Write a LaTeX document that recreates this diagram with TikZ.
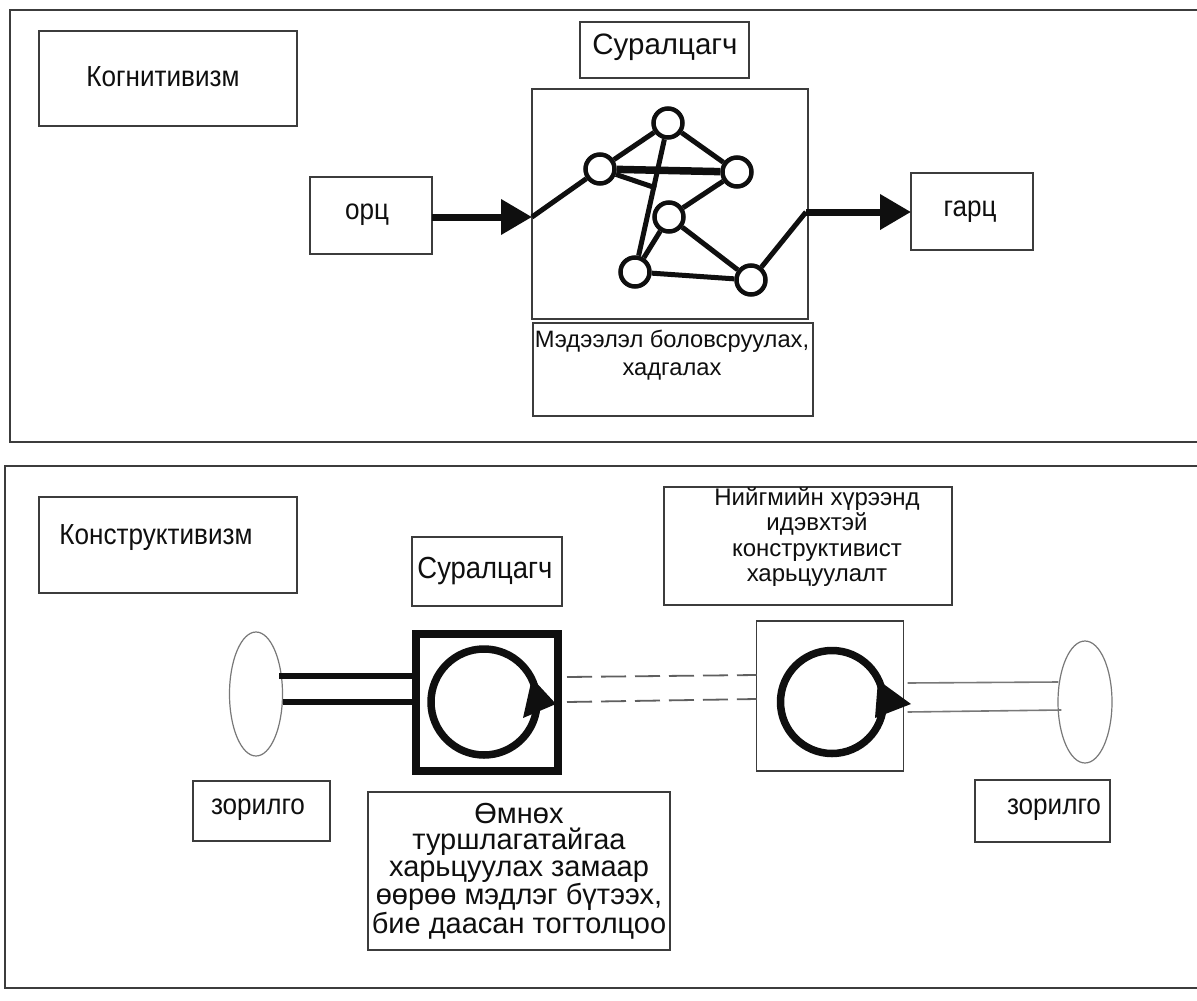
\documentclass[tikz,border=0pt]{standalone}
\usepackage{fontspec}
\setmainfont{Liberation Sans}
\newfontfamily\condf{Liberation Sans}[FakeStretch=0.9]
\usetikzlibrary{arrows.meta,shapes.geometric}
\definecolor{frame}{RGB}{60,60,60}
\definecolor{ink}{RGB}{15,15,15}
\definecolor{dashgray}{RGB}{95,95,95}
\definecolor{thingray}{RGB}{120,120,120}
\begin{document}
\begin{tikzpicture}[x=1pt,y=-1pt,
  panel/.style={draw=frame,line width=2pt},
  box/.style={draw=frame,line width=1.8pt,inner sep=0pt,outer sep=0pt},
  big/.style={font=\condf\fontsize{29}{29}\selectfont,align=center,text=ink,inner sep=0pt},
  small/.style={font=\fontsize{24}{25.5}\selectfont,align=center,text=ink,inner sep=0pt},
  gnode/.style={circle,draw=ink,line width=4.5pt,fill=white,minimum size=29pt,inner sep=0pt},
  gedge/.style={draw=ink,line width=5pt},
  fatarrow/.style={draw=ink,line width=7pt,-{Triangle[length=31pt,width=34pt]}},
  loopc/.style={circle,draw=ink,line width=7.5pt,inner sep=0pt},
  goal/.style={ellipse,draw=thingray,line width=1.2pt,inner sep=0pt}]
\useasboundingbox (0,0) rectangle (1197,1001);
\fill[white] (0,0) rectangle (1197,1001);

% ---------------- top panel ----------------
\draw[panel] (9.5,10) rectangle (1215,441.5);
\node[box,minimum width=258pt,minimum height=95pt] (kog) at (168,78.5) {};
\node[big] (kogt) at (163,77) {Когнитивизм};

\node[box,minimum width=169pt,minimum height=56pt] (sur1) at (664.5,50) {};
\node[big,font=\fontsize{29.5}{30}\selectfont] (sur1t) at (665,47) {Суралцагч};

\node[box,minimum width=276pt,minimum height=230pt] (gbox) at (670,204) {};
\node[box,minimum width=280pt,minimum height=93pt] (mbox) at (673,369.5) {};
\node[small,font=\fontsize{23.7}{28}\selectfont,anchor=north] (mboxt) at (672,330) {Мэдээлэл боловсруулах,\\хадгалах};

\node[box,minimum width=122pt,minimum height=77pt] (orc) at (371,215.5) {};
\node[big] (orct) at (367,215) {орц};
\node[box,minimum width=122pt,minimum height=77pt] (garc) at (972,211.5) {};
\node[big] (garct) at (970,212) {гарц};

\node[gnode] (n1) at (668,123) {};
\node[gnode] (n2) at (600,169) {};
\node[gnode] (n3) at (737,172) {};
\node[gnode] (n4) at (669,217) {};
\node[gnode] (n5) at (635,272) {};
\node[gnode] (n6) at (751,280) {};
\coordinate (in) at (532,217);
\coordinate (out) at (806,212);
\coordinate (stub) at (656,188);

\draw[gedge] (in) -- (n2);
\draw[gedge] (n2) -- (n1);
\draw[gedge] (n1) -- (n3);
\draw[gedge,line width=7.5pt] (n2) -- (n3);
\draw[gedge] (n2) -- (stub);
\draw[gedge] (n1) -- (n5);
\draw[gedge] (n3) -- (n4);
\draw[gedge] (n4) -- (n5);
\draw[gedge] (n4) -- (n6);
\draw[gedge] (n5) -- (n6);
\draw[gedge] (n6) -- (out);
\draw[fatarrow] (orc.east |- in) -- (in);
\draw[fatarrow] (out) -- (garc.west |- out);

% ---------------- bottom panel ----------------
\draw[panel] (5,466) rectangle (1215,988);
\node[box,minimum width=258pt,minimum height=96pt] (kons) at (168,545) {};
\node[big] (konst) at (156,538) {Конструктивизм};

\node[box,minimum width=150pt,minimum height=69pt] (sur2) at (487,571.5) {};
\node[big,font=\condf\fontsize{30.5}{30}\selectfont] (sur2t) at (485,571) {Суралцагч};

\node[box,minimum width=288pt,minimum height=118pt] (soc) at (808,546) {};
\node[small] (soct) at (817,537) {Нийгмийн хүрээнд\\идэвхтэй\\конструктивист\\харьцуулалт};

\node[goal,minimum width=53pt,minimum height=124pt] (ell1) at (256,694) {};
\node[goal,minimum width=54pt,minimum height=122pt] (ell2) at (1085,702) {};

\node[draw=ink,line width=8pt,inner sep=0pt,minimum width=142pt,minimum height=137pt] (sq1) at (487,702.5) {};
\node[loopc,minimum size=106pt] (c1) at (484,702) {};
\fill[ink,shift={(c1.center)}] (72,2) -- (48,-24) -- (39,16) -- cycle;

\node[box,minimum width=147pt,minimum height=150pt] (sq2) at (830,696) {};
\node[loopc,minimum size=103pt] (c2) at (832,702) {};
\fill[ink,shift={(c2.center)}] (79,2) -- (46,-22) -- (43,16) -- cycle;

\draw[ink,line width=5.5pt] (ell1.east |- 0,676) ++(-4,0) -- (sq1.west |- 0,676);
\draw[ink,line width=5.5pt] (ell1.east |- 0,702) -- (sq1.west |- 0,702);

\draw[dashgray,line width=1.8pt,dash pattern=on 25pt off 9pt] ([xshift=5pt]sq1.east |- 0,677) -- (sq2.west |- 0,675);
\draw[dashgray,line width=1.8pt,dash pattern=on 25pt off 9pt] ([xshift=5pt]sq1.east |- 0,702) -- (sq2.west |- 0,699);

\draw[thingray,line width=1.6pt] ([xshift=4pt]sq2.east |- 0,683) -- ([xshift=1pt]ell2.west |- 0,682);
\draw[thingray,line width=1.6pt] ([xshift=4pt]sq2.east |- 0,712) -- ([xshift=4pt]ell2.west |- 0,710);

\node[box,minimum width=137pt,minimum height=60pt] (zor1) at (261.5,811) {};
\node[big] (zor1t) at (258,810) {зорилго};
\node[box,minimum width=302pt,minimum height=158pt] (omn) at (519,871) {};
\node[big,font=\fontsize{29}{26.5}\selectfont,anchor=north] (omnt) at (519,803) {Өмнөх\\туршлагатайгаа\\харьцуулах замаар\\өөрөө мэдлэг бүтээх,\\бие даасан тогтолцоо};
\node[box,minimum width=135pt,minimum height=62pt] (zor2) at (1042.5,811) {};
\node[big] (zor2t) at (1054,810) {зорилго};
\end{tikzpicture}
\end{document}
